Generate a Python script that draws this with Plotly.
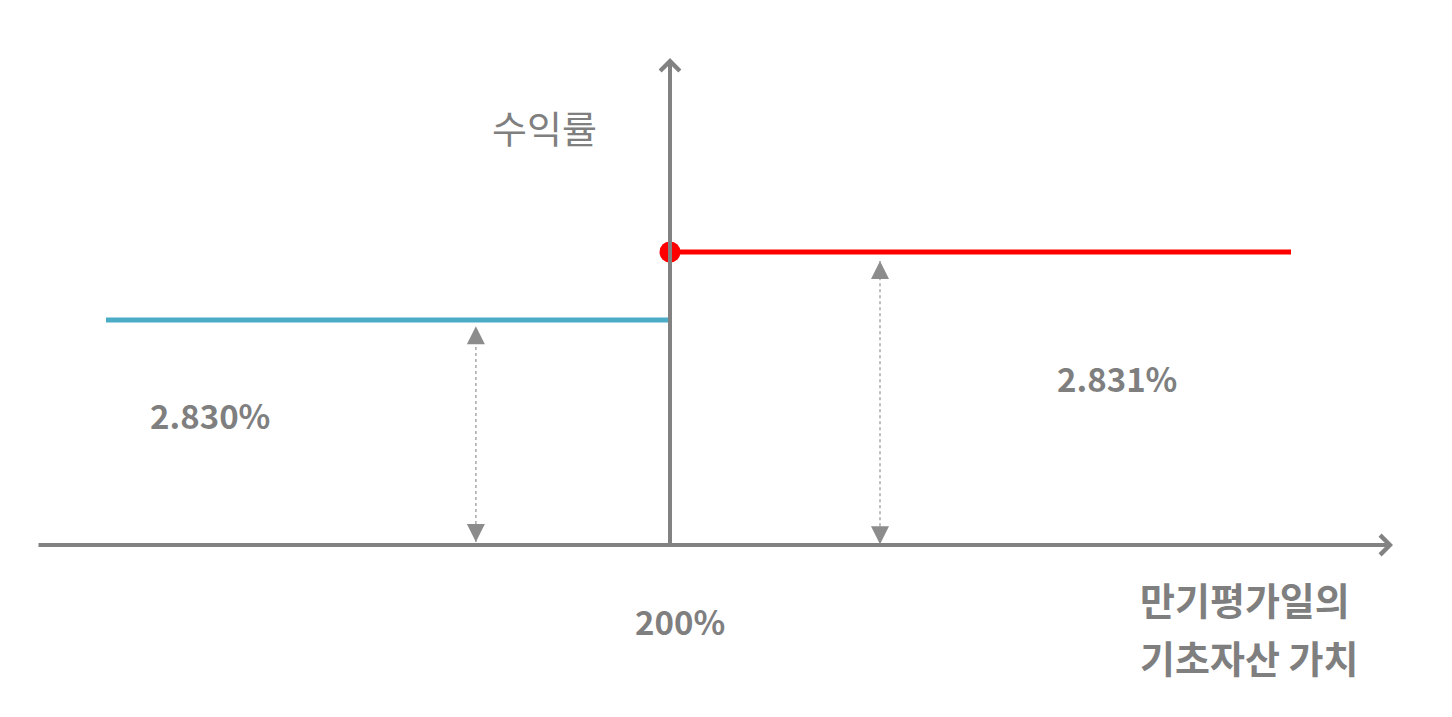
import plotly.graph_objects as go

# ---- schematic data (conceptual payoff diagram) ----
strike = 200                      # 200% strike on the horizontal axis
x_left = [12, 200]                # underlying value range, lower payoff
x_right = [200, 407]              # underlying value range, upper payoff
level_left = [0.768, 0.768]       # schematic return level (2.830%)
level_right = [1.0, 1.0]          # schematic return level (2.831%)
x_axis_span = [-11, 441]
y_axis_span = [0, 1.662]
dim_x = [135.3, 270]              # x of the dimension arrows
dim_top = [0.747, 0.969]
dim_bottom = [0.01, 0.003]
return_labels = ["2.830%", "2.831%"]
return_label_x = [46.7, 349]
return_label_y = [0.444, 0.57]
strike_label = "200%"
y_title = "수익률"
x_title = ["만기평가일의", "기초자산 가치"]

GRAY = "#828282"
TXT = "#7f7f7f"
BLUE = "#4bacc6"
RED = "#ff0000"
FONT = "Noto Sans CJK KR"

fig = go.Figure()

# dotted dimension lines
for x, t, b in zip(dim_x, dim_top, dim_bottom):
    fig.add_trace(go.Scatter(x=[x, x], y=[b, t], mode="lines",
                             line=dict(color="#9a9a9a", width=1.3, dash="dot"),
                             hoverinfo="skip", showlegend=False))

# payoff lines
fig.add_trace(go.Scatter(x=x_left, y=level_left, mode="lines",
                         line=dict(color=BLUE, width=5), showlegend=False))
fig.add_trace(go.Scatter(x=x_right, y=level_right, mode="lines",
                         line=dict(color=RED, width=5), showlegend=False))

annotations = []
# axes with chevron arrowheads
annotations.append(dict(x=x_axis_span[1], y=0, ax=x_axis_span[0], ay=0,
                        xref="x", yref="y", axref="x", ayref="y", text="",
                        showarrow=True, arrowhead=4, arrowsize=0.95, arrowwidth=4,
                        arrowcolor=GRAY, standoff=0))
annotations.append(dict(x=strike, y=y_axis_span[1], ax=strike, ay=y_axis_span[0],
                        xref="x", yref="y", axref="x", ayref="y", text="",
                        showarrow=True, arrowhead=4, arrowsize=0.95, arrowwidth=4,
                        arrowcolor=GRAY, standoff=0))
# dimension arrowheads
for x, t, b in zip(dim_x, dim_top, dim_bottom):
    for tip, tail in ((t, t - 0.03), (b, b + 0.03)):
        annotations.append(dict(x=x, y=tip, ax=x, ay=tail,
                                xref="x", yref="y", axref="x", ayref="y", text="",
                                showarrow=True, arrowhead=2, arrowsize=3.0,
                                arrowwidth=1.2, arrowcolor="#8c8c8c", standoff=0))

fig.add_trace(go.Scatter(x=[strike], y=[level_right[0]], mode="markers",
                         marker=dict(color=RED, size=21), showlegend=False))

# labels
for txt, x, y in zip(return_labels, return_label_x, return_label_y):
    annotations.append(dict(x=x, y=y, xref="x", yref="y", text="<b>%s</b>" % txt,
                            showarrow=False, font=dict(family=FONT, size=33, color=TXT)))
annotations.append(dict(x=203.3, y=-0.259, xref="x", yref="y",
                        text="<b>%s</b>" % strike_label, showarrow=False,
                        font=dict(family=FONT, size=33, color=TXT)))
annotations.append(dict(x=158.3, y=1.427, xref="x", yref="y", text=y_title,
                        showarrow=False, font=dict(family=FONT, size=38, color=TXT)))
for i, (txt, y) in enumerate(zip(x_title, [-0.181, -0.382])):
    annotations.append(dict(x=356, y=y, xref="x", yref="y", text="<b>%s</b>" % txt,
                            xanchor="left", showarrow=False,
                            font=dict(family=FONT, size=38, color=TXT)))

fig.update_layout(
    width=1436, height=701,
    margin=dict(l=0, r=0, t=0, b=0),
    paper_bgcolor="white", plot_bgcolor="white",
    xaxis=dict(range=[-20.667, 458.0], visible=False, fixedrange=True),
    yaxis=dict(range=[-0.5597, 1.8328], visible=False, fixedrange=True),
    annotations=annotations,
    showlegend=False,
)

fig.write_html("out.html")
